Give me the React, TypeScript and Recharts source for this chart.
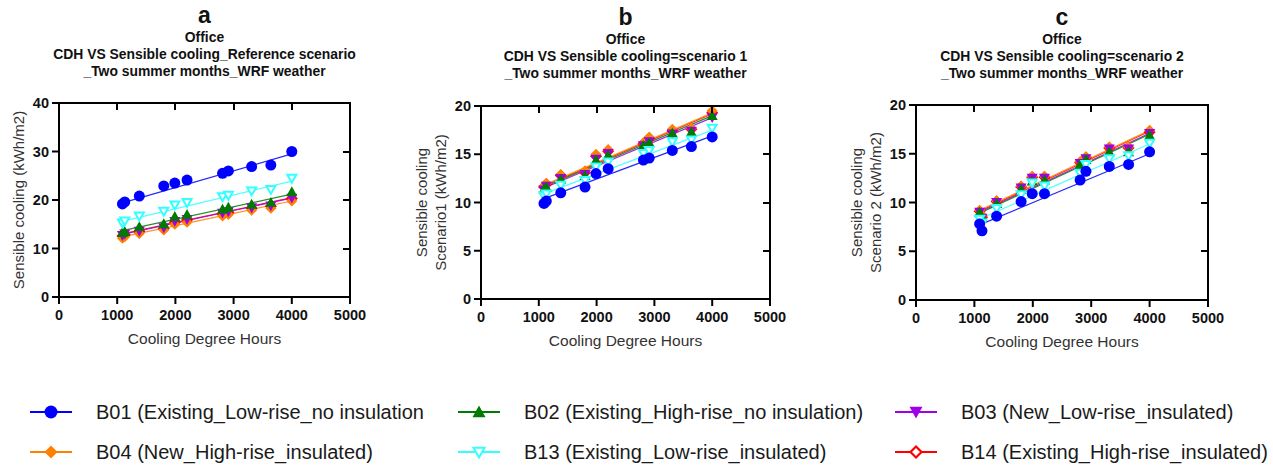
import React from "react";
import { ScatterChart, Scatter, XAxis, YAxis } from "recharts";

// cooling degree hours of the 11 sites (shared by all panels)
const cdh = [1090, 1130, 1380, 1800, 1990, 2200, 2810, 2910, 3310, 3640, 4000];
const fitRange = [1090, 4000];
const xTicks = [0, 1000, 2000, 3000, 4000, 5000];
const xMax = 5000;

// panel a: reference scenario
const refB01 = [19.2, 19.6, 20.8, 22.9, 23.5, 24.1, 25.5, 26.0, 26.9, 27.2, 30.0];
const refB02 = [13.3, 13.5, 14.5, 15.1, 16.6, 17.0, 18.1, 18.5, 19.1, 19.5, 21.7];
const refB03 = [12.7, 13.0, 13.6, 14.3, 15.6, 16.0, 17.3, 17.6, 18.4, 18.8, 20.4];
const refB04 = [12.1, 12.4, 13.1, 13.8, 15.0, 15.4, 16.7, 17.0, 17.9, 18.3, 19.8];
const refB13 = [15.3, 15.7, 16.7, 17.7, 19.0, 19.5, 20.7, 21.0, 21.9, 22.2, 24.5];
const refB14 = [12.6, 12.9, 13.5, 14.1, 15.4, 15.9, 17.1, 17.4, 18.3, 18.7, 20.3];
const refFits = { B01: [19.4, 29.5], B02: [13.7, 21.2], B03: [12.9, 20.4], B04: [12.4, 19.8], B13: [15.6, 23.9], B14: [13.0, 20.5] };

// panel b: scenario 1
const s1B01 = [9.9, 10.15, 11.0, 11.6, 13.0, 13.5, 14.4, 14.6, 15.4, 15.8, 16.8];
const s1B02 = [11.4, 11.6, 12.4, 12.8, 14.4, 14.9, 15.9, 16.2, 17.2, 17.3, 19.0];
const s1B03 = [11.3, 11.7, 12.5, 12.9, 14.5, 15.1, 15.9, 16.3, 17.1, 17.4, 18.8];
const s1B04 = [11.7, 12.0, 12.9, 13.3, 15.0, 15.5, 16.2, 16.8, 17.6, 17.7, 19.5];
const s1B13 = [10.7, 10.9, 11.8, 12.3, 13.7, 14.2, 15.1, 15.4, 16.3, 16.5, 17.7];
const s1B14 = [11.6, 11.9, 12.8, 13.1, 14.8, 15.3, 16.1, 16.6, 17.4, 17.6, 19.3];
const s1Fits = { B01: [10.4, 16.9], B02: [11.6, 19.0], B03: [11.5, 18.8], B04: [11.8, 19.3], B13: [10.9, 17.5], B14: [11.7, 19.2] };

// panel c: scenario 2
const s2B01 = [7.8, 7.1, 8.6, 10.1, 10.9, 10.9, 12.3, 13.2, 13.7, 13.9, 15.2];
const s2B02 = [9.0, 8.5, 9.9, 11.35, 12.2, 12.3, 13.9, 14.4, 15.2, 15.2, 16.9];
const s2B03 = [9.0, 8.4, 10.0, 11.5, 12.5, 12.5, 14.0, 14.5, 15.5, 15.5, 17.1];
const s2B04 = [9.2, 8.7, 10.2, 11.7, 12.7, 12.7, 14.2, 14.7, 15.7, 15.7, 17.4];
const s2B13 = [8.3, 7.9, 9.4, 10.8, 12.0, 11.7, 13.0, 13.9, 14.5, 14.8, 16.1];
const s2B14 = [9.1, 8.5, 10.1, 11.6, 12.6, 12.6, 14.1, 14.6, 15.6, 15.6, 17.2];
const s2Fits = { B01: [7.7, 15.0], B02: [8.9, 17.0], B03: [9.0, 17.1], B04: [9.2, 17.4], B13: [8.3, 16.0], B14: [9.1, 17.3] };

const series = [
  { key: "B01", name: "B01 (Existing_Low-rise_no insulation", color: "#0000FF", shape: "circle" },
  { key: "B02", name: "B02 (Existing_High-rise_no insulation)", color: "#007A00", shape: "triangle" },
  { key: "B03", name: "B03 (New_Low-rise_insulated)", color: "#A000E8", shape: "triangleDown" },
  { key: "B04", name: "B04 (New_High-rise_insulated)", color: "#FF8000", shape: "diamond" },
  { key: "B13", name: "B13 (Existing_Low-rise_insulated)", color: "#33FFFF", shape: "triangleDownOpen" },
  { key: "B14", name: "B14 (Existing_High-rise_insulated)", color: "#FF0000", shape: "diamondOpen" },
];
const drawOrder = ["B14", "B04", "B03", "B02", "B13", "B01"];

const panels = [
  {
    id: "a",
    subtitle: "CDH VS Sensible cooling_Reference scenario",
    values: { B01: refB01, B02: refB02, B03: refB03, B04: refB04, B13: refB13, B14: refB14 },
    fits: refFits,
    yMax: 40,
    yTicks: [0, 10, 20, 30, 40],
    yLabel: ["Sensible cooling (kWh/m2)"],
    plot: { l: 59, r: 350, t: 103, b: 297 },
    titleTop: 0,
  },
  {
    id: "b",
    subtitle: "CDH VS Sensible cooling=scenario 1",
    values: { B01: s1B01, B02: s1B02, B03: s1B03, B04: s1B04, B13: s1B13, B14: s1B14 },
    fits: s1Fits,
    yMax: 20,
    yTicks: [0, 5, 10, 15, 20],
    yLabel: ["Sensible cooling", "Scenario1  (kWh/m2)"],
    plot: { l: 481, r: 770, t: 106, b: 299 },
    titleTop: 2,
  },
  {
    id: "c",
    subtitle: "CDH VS Sensible cooling=scenario 2",
    values: { B01: s2B01, B02: s2B02, B03: s2B03, B04: s2B04, B13: s2B13, B14: s2B14 },
    fits: s2Fits,
    yMax: 20,
    yTicks: [0, 5, 10, 15, 20],
    yLabel: ["Sensible cooling", "Scenario 2 (kWh/m2)"],
    plot: { l: 916, r: 1208, t: 105, b: 300 },
    titleTop: 2,
  },
];

const FONT = "'Liberation Sans', Arial, sans-serif";
const axisStroke = { stroke: "#000", strokeWidth: 2 };
const TICK = 7;
const PAD_L = 100; // plot left inside each panel svg

const Marker = ({ kind, cx, cy, color, size = 11 }: any) => {
  const r = size / 2;
  switch (kind) {
    case "circle":
      return <circle cx={cx} cy={cy} r={r} fill={color} />;
    case "triangle":
      return <polygon points={`${cx},${cy - r} ${cx + r},${cy + r * 0.8} ${cx - r},${cy + r * 0.8}`} fill={color} />;
    case "triangleDown":
      return <polygon points={`${cx},${cy + r} ${cx + r},${cy - r * 0.8} ${cx - r},${cy - r * 0.8}`} fill={color} />;
    case "triangleDownOpen":
      return (
        <polygon
          points={`${cx},${cy + r - 1} ${cx + r - 1},${cy - r * 0.8 + 1} ${cx - r + 1},${cy - r * 0.8 + 1}`}
          fill="#fff"
          stroke={color}
          strokeWidth={2}
        />
      );
    case "diamond":
      return <polygon points={`${cx},${cy - r} ${cx + r},${cy} ${cx},${cy + r} ${cx - r},${cy}`} fill={color} />;
    case "diamondOpen":
      return (
        <polygon
          points={`${cx},${cy - r + 1} ${cx + r - 1},${cy} ${cx},${cy + r - 1} ${cx - r + 1},${cy}`}
          fill="#fff"
          stroke={color}
          strokeWidth={2.2}
        />
      );
    default:
      return null;
  }
};

const Empty = () => <g />;

const Panel = ({ p }: any) => {
  const left = p.plot.l - PAD_L;
  const width = p.plot.r - p.plot.l + 170;
  const height = p.plot.b + 63;
  const pw = p.plot.r - p.plot.l;
  const ph = p.plot.b - p.plot.t;
  const cx = p.plot.l + pw / 2;

  const XTick = (props: any) => (
    <text x={props.x} y={props.y} dy="0.71em" textAnchor="middle" fill="#111" fontSize={14.5} fontWeight={700}>
      {props.payload.value}
    </text>
  );
  const YTick = (props: any) => (
    <text x={props.x} y={props.y} dy="0.355em" textAnchor="end" fill="#111" fontSize={14.5} fontWeight={700}>
      {props.payload.value}
    </text>
  );

  const xTitle = () => (
    <text x={PAD_L + pw / 2} y={p.plot.b + 47} textAnchor="middle" fontSize={15.5} fill="#333">
      Cooling Degree Hours
    </text>
  );
  const yTitle = () => {
    const cy = p.plot.t + ph / 2;
    const n = p.yLabel.length;
    return (
      <g>
        {p.yLabel.map((t: string, i: number) => {
          const x = PAD_L - 41 - (n - 1 - i) * 19;
          return (
            <text
              key={t}
              x={x}
              y={cy}
              transform={`rotate(-90 ${x} ${cy})`}
              textAnchor="middle"
              dominantBaseline="central"
              fontSize={15}
              fill="#333"
            >
              {t}
            </text>
          );
        })}
      </g>
    );
  };

  return (
    <>
      <div
        style={{
          position: "absolute",
          left: cx - 220,
          top: p.titleTop,
          width: 440,
          textAlign: "center",
          fontWeight: 700,
          color: "#111",
        }}
      >
        <div style={{ fontSize: 23, lineHeight: "30px", height: 29 }}>{p.id}</div>
        <div style={{ fontSize: 13.9, lineHeight: "17px" }}>Office</div>
        <div style={{ fontSize: 13.9, lineHeight: "17px" }}>{p.subtitle}</div>
        <div style={{ fontSize: 13.9, lineHeight: "17px" }}>_Two summer months_WRF weather</div>
      </div>
      <div style={{ position: "absolute", left, top: 0 }}>
        <ScatterChart width={width} height={height} margin={{ top: p.plot.t, right: 70, bottom: 23, left: 60 }}>
          <XAxis
            type="number"
            dataKey="x"
            domain={[0, xMax]}
            ticks={xTicks}
            interval={0}
            height={40}
            tickSize={TICK}
            tickMargin={6}
            axisLine={axisStroke}
            tickLine={axisStroke}
            tick={XTick}
            label={xTitle}
          />
          <YAxis
            type="number"
            dataKey="y"
            domain={[0, p.yMax]}
            ticks={p.yTicks}
            interval={0}
            width={40}
            tickSize={TICK}
            tickMargin={3}
            axisLine={axisStroke}
            tickLine={axisStroke}
            tick={YTick}
            label={yTitle}
          />
          {drawOrder.map((k) => {
            const s = series.find((v) => v.key === k)!;
            const f = p.fits[k];
            return (
              <Scatter
                key={`fit-${k}`}
                data={[
                  { x: fitRange[0], y: f[0] },
                  { x: fitRange[1], y: f[1] },
                ]}
                fill={s.color}
                line={{ stroke: s.color, strokeWidth: 1.2, strokeOpacity: 0.85 }}
                shape={Empty}
                isAnimationActive={false}
              />
            );
          })}
          {drawOrder.map((k) => {
            const s = series.find((v) => v.key === k)!;
            const data = cdh.map((x, i) => ({ x, y: p.values[k][i] }));
            return (
              <Scatter
                key={`pts-${k}`}
                name={s.name}
                data={data}
                fill={s.color}
                shape={(props: any) => <Marker kind={s.shape} cx={props.cx} cy={props.cy} color={s.color} />}
                isAnimationActive={false}
              />
            );
          })}
        </ScatterChart>
      </div>
    </>
  );
};

// closed box: top and right edges with inward ticks, laid over each plot area
const Frame = ({ p }: any) => {
  const pw = p.plot.r - p.plot.l;
  const ph = p.plot.b - p.plot.t;
  const base = { position: "absolute" as const, background: "#000", zIndex: 10 };
  return (
    <>
      <div style={{ ...base, left: p.plot.l, top: p.plot.t - 1, width: pw + 1, height: 2 }} />
      <div style={{ ...base, left: p.plot.r - 1, top: p.plot.t - 1, width: 2, height: ph + 1 }} />
      {xTicks.slice(1, -1).map((t) => (
        <div key={`tx${t}`} style={{ ...base, left: p.plot.l + (t / xMax) * pw - 1, top: p.plot.t, width: 2, height: TICK }} />
      ))}
      {p.yTicks.slice(1, -1).map((t: number) => (
        <div
          key={`ty${t}`}
          style={{ ...base, left: p.plot.r - TICK, top: p.plot.b - (t / p.yMax) * ph - 1, width: TICK, height: 2 }}
        />
      ))}
    </>
  );
};

const legendCols = [30, 458, 895];
const legendRows = [412, 452];

const Legend = () => (
  <>
    {series.map((s, i) => {
      const col = i % 3;
      const row = Math.floor(i / 3);
      const x = legendCols[col];
      const y = legendRows[row];
      return (
        <div
          key={s.key}
          style={{ position: "absolute", left: x, top: y - 15, height: 30, display: "flex", alignItems: "center" }}
        >
          <svg width={44} height={30} style={{ display: "block" }}>
            <line x1={0} x2={42} y1={15} y2={15} stroke={s.color} strokeWidth={2} />
            <Marker kind={s.shape} cx={21} cy={15} color={s.color} size={13} />
          </svg>
          <span style={{ marginLeft: 22, fontSize: 20, color: "#1a1a1a", whiteSpace: "nowrap" }}>{s.name}</span>
        </div>
      );
    })}
  </>
);

const App = () => (
  <div
    style={{
      position: "absolute",
      left: 0,
      top: 0,
      width: 1273,
      height: 466,
      background: "#fff",
      fontFamily: FONT,
      overflow: "hidden",
    }}
  >
    {panels.map((p) => (
      <Panel key={p.id} p={p} />
    ))}
    <Legend />
    {panels.map((p) => (
      <Frame key={`frame-${p.id}`} p={p} />
    ))}
  </div>
);

export default App;
